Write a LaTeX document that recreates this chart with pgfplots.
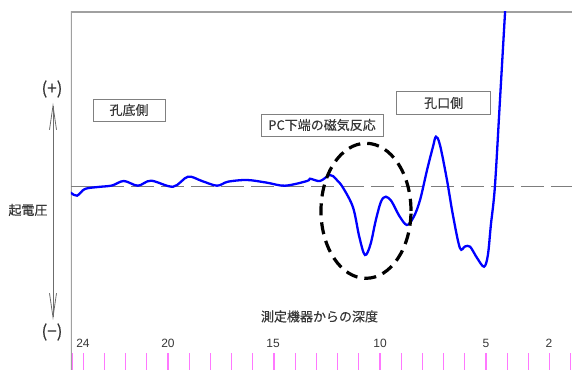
\documentclass[border=0pt]{standalone}
\usepackage{fontspec}
\setmainfont{Liberation Sans}
\newfontfamily\jp[FakeBold=0.35]{Noto Sans CJK JP}
\usepackage{pgfplots}
\pgfplotsset{compat=1.18}
\usetikzlibrary{arrows.meta}
\definecolor{framegray}{RGB}{160,160,160}
\definecolor{dashgray}{RGB}{125,125,125}
\definecolor{txt}{RGB}{55,55,55}
\definecolor{tickmag}{RGB}{255,120,255}
\begin{document}
\begin{tikzpicture}
\begin{axis}[
  name=ax,
  scale only axis,
  width=501bp, height=358bp,
  x dir=reverse,
  xmin=0.943, xmax=24.575,
  ymin=-183.5, ymax=174.5,
  axis line style={draw=none},
  ytick=\empty,
  xtick={1,2,3,4,6,7,8,9,11,12,13,14,16,17,18,19,21,22,23,24,24.52},
  extra x ticks={5,10,15,20},
  xticklabels={}, extra x tick labels={},
  tick align=inside,
  major tick length=17bp,
  xtick pos=bottom,
  major tick style={tickmag, line width=1.1bp},
  extra x tick style={major tick style={tickmag, line width=2bp}},
  clip=true,
]
\draw[framegray, line width=1.2bp] (rel axis cs:0,0) -- (rel axis cs:0,1) -- (rel axis cs:1,1);
\addplot[dashgray, line width=1.1bp, dash pattern=on 23bp off 7bp] coordinates {(24.575,0) (0.943,0)};
\addplot[blue, line width=2.3bp, smooth, tension=0.55] coordinates {
(24.67,-5.2) (24.57,-6.5) (24.29,-9.2) (23.92,-2.5) (23.30,-0.5) (22.64,1.0)
(22.08,5.5) (21.42,0.8) (20.80,5.8) (19.76,-0.2) (19.06,9.8) (18.4,5.5)
(17.69,0.8) (17.17,4.8) (16.27,6.5) (15.33,3.8) (14.48,0.8) (13.44,5.5)
(13.30,7.8) (12.83,5.5) (12.36,11.5) (12.08,7.5) (11.75,-1)
(11.27,-21) (10.98,-50) (10.71,-68.5) (10.45,-58) (10.20,-34) (9.95,-15)
(9.72,-10.2) (9.45,-15) (9.10,-29) (8.73,-38.5) (8.40,-30) (8.11,-13.5) (7.78,16.5) (7.50,39.8)
(7.36,49.8) (7.17,41.5) (6.84,6.5) (6.56,-28.5) (6.23,-61.5) (5.99,-60)
(5.75,-60.2) (5.42,-71.5) (5.09,-80.2) (4.91,-68.5) (4.77,-38.5) (4.58,-0.2)
(4.34,86.5) (4.10,174.5) (4.0,210)
};
\draw[black, line width=3.2bp, dash pattern=on 12bp off 7bp] (axis cs:10.66,-24.3) ellipse [x radius=45bp, y radius=67.5bp];
\end{axis}
\coordinate (TL) at ([shift={(-71bp,370bp)}]ax.south west);
\begin{scope}[every node/.style={text=txt, inner sep=0pt}]
\foreach \d/\x in {24/83,20/168,15/273,10/380,5/486,2/549}
  \node[font=\fontsize{12bp}{14bp}\selectfont] at ([shift={(\x bp,-343bp)}]TL) {\d};
\node[font=\jp\fontsize{13bp}{15bp}\selectfont] at ([shift={(319.5bp,-316.5bp)}]TL) {測定機器からの深度};
\node[font=\jp\fontsize{13bp}{15bp}\selectfont] at ([shift={(28bp,-210bp)}]TL) {起電圧};
\node[font=\jp\fontsize{17bp}{19bp}\selectfont] at ([shift={(52bp,-89bp)}]TL) {(+)};
\node[font=\jp\fontsize{17bp}{19bp}\selectfont] at ([shift={(52bp,-332bp)}]TL) {(−)};
\node[draw=gray, line width=0.8bp, minimum width=72bp, minimum height=22bp, font=\jp\fontsize{13bp}{15bp}\selectfont] at ([shift={(129bp,-110bp)}]TL) {孔底側};
\node[draw=gray, line width=0.8bp, minimum width=122bp, minimum height=22bp, font=\jp\fontsize{13bp}{15bp}\selectfont] at ([shift={(322bp,-125bp)}]TL) {PC下端の磁気反応};
\node[draw=gray, line width=0.8bp, minimum width=94bp, minimum height=22.5bp, font=\jp\fontsize{13bp}{15bp}\selectfont] at ([shift={(443.7bp,-103bp)}]TL) {孔口側};
\end{scope}
\draw[gray!85!black, line width=0.8bp, {Straight Barb[length=24bp,width=7bp]}-{Straight Barb[length=24bp,width=7bp]}] ([shift={(53bp,-103bp)}]TL) -- ([shift={(53bp,-320bp)}]TL);
\pgfresetboundingbox
\path (TL) rectangle ++(572bp,-370bp);
\end{tikzpicture}
\end{document}
